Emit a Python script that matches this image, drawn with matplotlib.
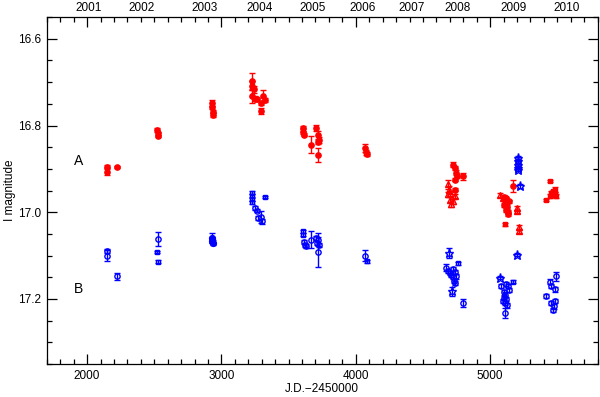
import matplotlib
matplotlib.use('Agg')
import matplotlib.pyplot as plt
from matplotlib.ticker import MultipleLocator
import numpy as np

plt.rcParams['font.family'] = ['Liberation Sans', 'DejaVu Sans']

# ---- star A (red) ----
a_dot_jd = [2149, 2151, 2219, 2524, 2526, 2527, 2928, 2930, 2934, 2936,
            3228, 3230, 3240, 3226, 3250, 3268, 3297, 3295, 3310, 3322,
            3607, 3608, 3612, 3670, 3707, 3719, 3726, 3716, 3718,
            4066, 4078, 4085,
            4724, 4736, 4745, 4753, 4738, 4798, 4735,
            5170, 5100, 5110, 5120, 5125, 5115, 5130, 5140, 5135, 5105, 5118]
a_dot_mag = [16.907, 16.896, 16.896, 16.810, 16.818, 16.824, 16.748, 16.758, 16.768, 16.776,
             16.697, 16.708, 16.716, 16.733, 16.738, 16.740, 16.748, 16.767, 16.731, 16.741,
             16.806, 16.814, 16.821, 16.844, 16.806, 16.823, 16.834, 16.837, 16.867,
             16.852, 16.862, 16.866,
             16.890, 16.898, 16.909, 16.917, 16.925, 16.917, 16.948,
             16.940, 16.965, 16.972, 16.980, 16.988, 16.995, 17.000, 16.975, 17.005, 16.983, 16.968]
a_dot_err = [0.008, 0.004, 0.003, 0.004, 0.004, 0.003, 0.006, 0.004, 0.004, 0.004,
             0.018, 0.010, 0.008, 0.016, 0.006, 0.004, 0.004, 0.007, 0.014, 0.005,
             0.006, 0.005, 0.004, 0.020, 0.007, 0.010, 0.007, 0.006, 0.016,
             0.010, 0.005, 0.004,
             0.005, 0.005, 0.006, 0.005, 0.004, 0.008, 0.004,
             0.014, 0.005, 0.004, 0.004, 0.005, 0.004, 0.005, 0.004, 0.004, 0.004, 0.004]

a_sq_jd = [5108, 5443, 5418, 5455, 5480, 5467, 5492, 5443, 5470, 5485]
a_sq_mag = [17.028, 16.928, 16.972, 16.955, 16.948, 16.960, 16.963, 16.963, 16.952, 16.958]
a_sq_err = [0.003, 0.003, 0.003, 0.005, 0.006, 0.005, 0.005, 0.004, 0.004, 0.004]

a_tri_jd = [4686, 4694, 4686, 4699, 4711, 4724, 4736, 4705,
            5071, 5096, 5199, 5199, 5214, 5214]
a_tri_mag = [16.936, 16.948, 16.959, 16.971, 16.982, 16.975, 16.963, 16.955,
             16.960, 16.968, 16.990, 16.998, 17.034, 17.044]
a_tri_err = [0.010, 0.008, 0.005, 0.005, 0.005, 0.005, 0.005, 0.004,
             0.004, 0.004, 0.004, 0.004, 0.004, 0.004]

# ---- star B (blue) ----
b_circ_jd = [2149, 2150, 2219, 2526,
             3253, 3266, 3275, 3297, 3300,
             3612, 3620, 3627, 3670, 3707, 3719, 3712, 3726, 3719,
             4066,
             4674, 4685, 4699, 4711, 4724, 4730, 4740, 4720, 4736, 4745, 4798,
             5083, 5100, 5108, 5120, 5096, 5110, 5130, 5115, 5125, 5108, 5140, 5105,
             5443, 5455, 5492, 5418, 5480, 5455, 5472, 5467, 5480]
b_circ_mag = [17.090, 17.100, 17.148, 17.061,
              16.990, 16.996, 17.013, 17.010, 17.021,
              17.069, 17.075, 17.078, 17.063, 17.059, 17.063, 17.071, 17.075, 17.092,
              17.100,
              17.128, 17.135, 17.140, 17.145, 17.150, 17.158, 17.163, 17.131, 17.138, 17.148, 17.209,
              17.170, 17.185, 17.190, 17.200, 17.205, 17.210, 17.170, 17.165, 17.215, 17.232, 17.180, 17.198,
              17.160, 17.170, 17.148, 17.193, 17.178, 17.210, 17.217, 17.225, 17.205]
b_circ_err = [0.005, 0.012, 0.008, 0.016,
              0.005, 0.004, 0.004, 0.014, 0.005,
              0.005, 0.004, 0.004, 0.020, 0.005, 0.015, 0.005, 0.005, 0.035,
              0.012,
              0.008, 0.005, 0.005, 0.005, 0.005, 0.005, 0.005, 0.005, 0.005, 0.005, 0.010,
              0.005, 0.005, 0.005, 0.005, 0.005, 0.005, 0.005, 0.005, 0.005, 0.012, 0.005, 0.005,
              0.005, 0.005, 0.010, 0.004, 0.005, 0.005, 0.005, 0.005, 0.005]

b_sq_jd = [2524, 2525, 3228, 3228, 3228, 3230, 3322, 3607, 3607, 4083, 4761, 5170]
b_sq_mag = [17.092, 17.114, 16.955, 16.962, 16.970, 16.977, 16.965, 17.044, 17.052, 17.113, 17.118, 17.160]
b_sq_err = [0.003, 0.003, 0.003, 0.003, 0.003, 0.003, 0.003, 0.003, 0.003, 0.004, 0.003, 0.003]

b_fill_jd = [2930, 2933, 2936]
b_fill_mag = [17.060, 17.066, 17.070]
b_fill_err = [0.012, 0.006, 0.005]

b_star_jd = [4694, 4719, 5071, 5205, 5207, 5209, 5206, 5208, 5220, 5199]
b_star_mag = [17.094, 17.182, 17.151, 16.875, 16.882, 16.890, 16.897, 16.902, 16.940, 17.098]
b_star_err = [0.012, 0.010, 0.004, 0.004, 0.004, 0.004, 0.004, 0.004, 0.004, 0.004]

# year labels on the top axis and where they sit (JD-2450000)
years = ['2001', '2002', '2003', '2004', '2005', '2006', '2007', '2008', '2009', '2010']
year_jd = [2012, 2407, 2876, 3285, 3679, 4051, 4416, 4758, 5175, 5570]

fig = plt.figure(figsize=(6, 3.97), dpi=100)
ax = fig.add_axes([0.078, 0.083, 0.918, 0.874])


def draw(jd, mag, err, color, marker, filled, ms=3.8):
    ax.errorbar(jd, mag, yerr=err, fmt=marker, color=color, ecolor=color,
                mfc=color if filled else 'none', mec=color, ms=ms, mew=1.0,
                elinewidth=1.0, capsize=2.2, capthick=1.0)


draw(a_dot_jd, a_dot_mag, a_dot_err, 'red', 'o', True)
draw(a_sq_jd, a_sq_mag, a_sq_err, 'red', 's', True, ms=3.4)
draw(a_tri_jd, a_tri_mag, a_tri_err, 'red', '^', False, ms=4.8)
draw(b_circ_jd, b_circ_mag, b_circ_err, 'blue', 'o', False)
draw(b_sq_jd, b_sq_mag, b_sq_err, 'blue', 's', False, ms=3.4)
draw(b_fill_jd, b_fill_mag, b_fill_err, 'blue', 'o', True, ms=4.2)
draw(b_star_jd, b_star_mag, b_star_err, 'blue', '*', False, ms=6.5)

ax.text(1933, 16.882, 'A', fontsize=10, ha='center', va='center')
ax.text(1938, 17.178, 'B', fontsize=10, ha='center', va='center')

ax.set_xlim(1700, 5800)
ax.set_ylim(17.35, 16.55)
ax.xaxis.set_major_locator(MultipleLocator(1000))
ax.xaxis.set_minor_locator(MultipleLocator(100))
ax.yaxis.set_major_locator(MultipleLocator(0.2))
ax.yaxis.set_minor_locator(MultipleLocator(0.05))
ax.yaxis.set_major_formatter(plt.FormatStrFormatter('%.1f'))
ax.tick_params(which='both', direction='in', top=True, right=True, labelsize=8.5, width=0.9)
ax.tick_params(which='major', length=7, pad=4)
ax.tick_params(which='minor', length=3.5)
for s in ax.spines.values():
    s.set_linewidth(0.9)

for yr, xj in zip(years, year_jd):
    ax.annotate(yr, xy=(xj, 1.0), xycoords=('data', 'axes fraction'),
                xytext=(0, 2.5), textcoords='offset points',
                ha='center', va='bottom', fontsize=8.5)

ax.set_xlabel('J.D.\u22122450000', fontsize=8.5, labelpad=1)
ax.set_ylabel('I magnitude', fontsize=8.5)
ax.yaxis.set_label_coords(-0.056, 0.5)

fig.savefig('out.png', dpi=100)
